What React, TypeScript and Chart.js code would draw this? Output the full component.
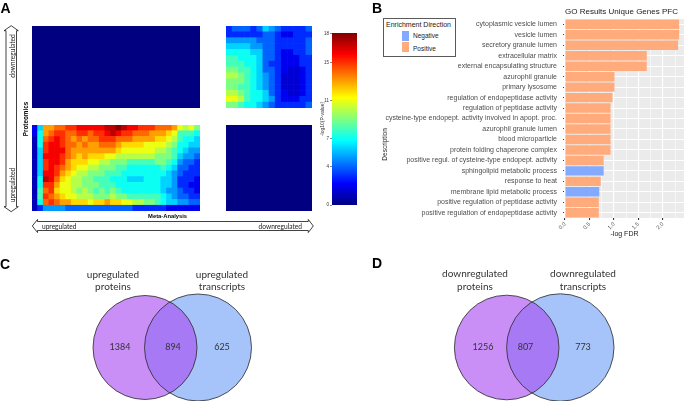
import React, { useEffect, useRef } from 'react';
import { Chart, registerables } from 'chart.js';

Chart.register(...registerables);

// ================= Panel A : heatmap data (-log10 P), rows listed top → bottom =================
const COLORBAR_MAX = 18.1;
const colorbarTicks = [0, 4, 7, 11, 15, 18];

// Proteomics downregulated × Meta-analysis upregulated (top-left)
const heatProtDownMetaUp = [
  [0, 0, 0, 0, 0, 0, 0, 0, 0, 0, 0, 0],
  [0, 0, 0, 0, 0, 0, 0, 0, 0, 0, 0, 0],
  [0, 0, 0, 0, 0, 0, 0, 0, 0, 0, 0, 0],
  [0, 0, 0, 0, 0, 0, 0, 0, 0, 0, 0, 0],
  [0, 0, 0, 0, 0, 0, 0, 0, 0, 0, 0, 0],
  [0, 0, 0, 0, 0, 0, 0, 0, 0, 0, 0, 0],
];

// Proteomics downregulated × Meta-analysis downregulated (top-right)
const heatProtDownMetaDown = [
  [3, 4, 4, 4, 3, 4, 6, 5, 4, 3, 3, 3, 3, 4],
  [3, 3, 3, 3, 3, 3, 4, 4, 3, 2, 2, 3, 3, 3],
  [5, 5, 5, 5, 5, 4, 4, 4, 3, 3, 3, 3, 3, 4],
  [6, 6, 6, 6, 5, 5, 4, 4, 3, 3, 3, 3, 3, 4],
  [7, 7, 7, 7, 6, 6, 4, 4, 3, 2, 2, 3, 3, 4],
  [8, 8, 7, 7, 7, 6, 4, 4, 3, 2, 2, 2, 3, 3],
  [8, 8, 8, 7, 7, 6, 4, 3, 3, 2, 2, 2, 3, 3],
  [9, 9, 8, 8, 7, 6, 4, 4, 3, 2, 1.5, 1.5, 2, 3],
  [10, 10, 9, 8, 7, 6, 5, 4, 3, 1.5, 1.5, 1.5, 2, 3],
  [9, 9, 9, 8, 7, 6, 5, 4, 3, 1.5, 1.5, 1.5, 2, 3],
  [9, 9, 8, 8, 7, 6, 5, 4, 3, 1.5, 1.5, 1.5, 2, 3],
  [10, 10, 9, 8, 7, 7, 6, 4, 3, 2, 1.5, 1.5, 2, 3],
  [11, 11, 10, 8, 7, 7, 6, 5, 3, 2, 2, 2, 3, 3],
  [9, 9, 8, 7, 7, 6, 5, 4, 3, 3, 3, 3, 3, 4],
];

// Proteomics upregulated × Meta-analysis upregulated (bottom-left)
const heatProtUpMetaUp = [
  [2, 6, 13, 13, 14, 14, 15, 15, 16, 16, 16, 16, 16, 17, 17, 18, 17, 16, 16, 15, 15, 15, 14, 14, 14, 13, 11, 10, 11, 9],
  [2, 7, 13, 14, 15, 15, 14, 14, 15, 15, 14, 15, 15, 16, 17, 16, 15, 15, 14, 14, 14, 13, 13, 13, 12, 11, 8, 8, 8, 7],
  [1, 7, 14, 15, 16, 15, 14, 13, 14, 13, 14, 14, 15, 15, 15, 14, 14, 14, 13, 13, 13, 13, 12, 12, 11, 10, 8, 7, 7, 6],
  [1, 7, 15, 16, 16, 15, 14, 14, 13, 14, 13, 13, 14, 14, 14, 13, 12, 12, 12, 12, 11, 11, 11, 11, 10, 9, 7, 7, 6, 6],
  [1, 6, 15, 16, 16, 16, 14, 13, 13, 13, 13, 13, 13, 13, 13, 12, 11, 11, 11, 11, 11, 11, 10, 10, 9, 8, 7, 6, 5, 5],
  [1, 6, 16, 16, 16, 15, 14, 13, 12, 13, 12, 12, 12, 11, 11, 10, 10, 10, 10, 10, 10, 10, 9, 9, 9, 8, 6, 5, 5, 4],
  [1, 6, 15, 16, 16, 15, 13, 12, 12, 12, 11, 11, 10, 10, 9, 9, 9, 8, 8, 8, 8, 8, 9, 9, 8, 7, 5, 4, 4, 3],
  [1, 6, 15, 16, 15, 14, 13, 12, 11, 11, 10, 10, 9, 9, 9, 8, 8, 7, 7, 7, 7, 7, 7, 8, 7, 6, 4, 4, 3, 3],
  [1, 6, 16, 16, 15, 13, 12, 11, 10, 10, 9, 9, 9, 8, 8, 8, 7, 7, 7, 7, 7, 7, 7, 7, 6, 5, 4, 3, 3, 3],
  [1, 7, 17, 16, 14, 12, 11, 10, 10, 9, 9, 8, 8, 8, 7, 7, 7, 6, 6, 6, 7, 7, 7, 6, 6, 5, 3, 3, 3, 2],
  [1, 7, 15, 15, 13, 11, 11, 10, 10, 9, 9, 9, 8, 8, 8, 7, 7, 7, 7, 7, 7, 7, 7, 6, 6, 5, 3, 3, 2, 2],
  [1, 8, 14, 15, 12, 11, 11, 10, 9, 10, 9, 8, 9, 8, 9, 8, 7, 7, 7, 7, 7, 7, 7, 6, 5, 5, 4, 3, 3, 2],
  [1, 8, 15, 14, 13, 12, 11, 11, 10, 10, 10, 9, 9, 9, 10, 9, 9, 8, 8, 8, 8, 8, 8, 7, 6, 5, 4, 4, 3, 3],
  [1, 7, 14, 15, 14, 13, 13, 12, 12, 12, 11, 12, 12, 13, 12, 12, 11, 11, 10, 10, 9, 9, 8, 7, 6, 6, 5, 5, 4, 4],
  [1, 3, 5, 5, 5, 5, 4, 4, 4, 4, 4, 4, 4, 4, 4, 4, 4, 4, 3, 3, 3, 3, 3, 3, 2, 2, 2, 2, 2, 2],
];

// Proteomics upregulated × Meta-analysis downregulated (bottom-right)
const heatProtUpMetaDown = [
  [0, 0, 0, 0, 0, 0],
  [0, 0, 0, 0, 0, 0],
  [0, 0, 0, 0, 0, 0],
  [0, 0, 0, 0, 0, 0],
  [0, 0, 0, 0, 0, 0],
  [0, 0, 0, 0, 0, 0],
];

// ================= Panel B : GO enrichment =================
const goTerms = [
  'cytoplasmic vesicle lumen',
  'vesicle lumen',
  'secretory granule lumen',
  'extracellular matrix',
  'external encapsulating structure',
  'azurophil granule',
  'primary lysosome',
  'regulation of endopeptidase activity',
  'regulation of peptidase activity',
  'cysteine-type endopept. activity involved in apopt. proc.',
  'azurophil granule lumen',
  'blood microparticle',
  'protein folding chaperone complex',
  'positive regul. of cysteine-type endopept. activity',
  'sphingolipid metabolic process',
  'response to heat',
  'membrane lipid metabolic process',
  'positive regulation of peptidase activity',
  'positive regulation of endopeptidase activity',
];
const goValues = [2.33, 2.33, 2.31, 1.67, 1.67, 1.01, 1.01, 0.97, 0.93, 0.93, 0.93, 0.93, 0.93, 0.79, 0.79, 0.73, 0.7, 0.69, 0.69];
const goDirection = [
  'Positive', 'Positive', 'Positive', 'Positive', 'Positive', 'Positive', 'Positive', 'Positive', 'Positive', 'Positive',
  'Positive', 'Positive', 'Positive', 'Positive', 'Negative', 'Positive', 'Negative', 'Positive', 'Positive',
];
const directionLevels = ['Negative', 'Positive'];
const goXTicks = [0, 0.5, 1, 1.5, 2];

// ================= Panels C / D : Venn =================
const vennUpSets = [['upregulated', 'proteins'], ['upregulated', 'transcripts']];
const vennUpCounts = [1384, 894, 625];
const vennDownSets = [['downregulated', 'proteins'], ['downregulated', 'transcripts']];
const vennDownCounts = [1256, 807, 773];

// ================= styles / layout =================
const SANS = '"Liberation Sans", Arial, Helvetica, sans-serif';
const HUMAN = 'Lato, "Open Sans", sans-serif';
const GO_COLORS: Record<string, string> = { Negative: '#83AAFF', Positive: '#FFAB7C' };
const VENN_RIGHT = 'rgb(166,196,250)';
const VENN_LEFT = 'rgba(170,74,240,0.62)';

const VENN_W = 340;
const VENN_H = 151;
const vennLayoutC = {
  xMin: -3.43, xMax: 3.37, yMin: -1.07, yMax: 1.95,
  cx: 0.53, r: [1.04, 1.07],
  countX: [-1.03, 0.03, 1.01], nameX: [-1.17, 1.01], nameY: [1.45, 1.21],
};
const vennLayoutD = {
  xMin: -3.77, xMax: 3.03, yMin: -1.07, yMax: 1.95,
  cx: 0.536, r: [1.046, 1.074],
  countX: [-1.01, -0.16, 0.99], nameX: [-1.17, 0.99], nameY: [1.47, 1.22],
};

function jet(v: number) {
  const t = Math.max(0, Math.min(1, v / COLORBAR_MAX));
  const f = (c: number) => Math.round(255 * Math.max(0, Math.min(1, 1.5 - Math.abs(4 * t - c))));
  return `rgb(${f(3)},${f(2)},${f(1)})`;
}

function jetGradient(chart: any) {
  const a = chart.chartArea;
  if (!a) return jet(0);
  const g = chart.ctx.createLinearGradient(0, a.bottom, 0, a.top);
  for (let k = 0; k <= 16; k++) {
    const t = k / 16;
    g.addColorStop(t, jet(t * COLORBAR_MAX));
  }
  return g;
}

const baseOpts = {
  responsive: true,
  maintainAspectRatio: false,
  animation: false as const,
  events: [] as any[],
};

function heatConfig(values: number[][]): any {
  const nRows = values.length;
  return {
    type: 'bar',
    data: {
      labels: values[0].map((_, i) => String(i + 1)),
      datasets: values
        .slice()
        .reverse()
        .map((row) => ({
          data: row.map(() => 1),
          backgroundColor: row.map((v) => jet(v)),
          borderWidth: 0,
          barPercentage: 1,
          categoryPercentage: 1,
        })),
    },
    options: {
      ...baseOpts,
      layout: { padding: 0 },
      plugins: { legend: { display: false }, tooltip: { enabled: false } },
      scales: {
        x: { display: false, stacked: true },
        y: { display: false, stacked: true, min: 0, max: nRows },
      },
    },
  };
}

function colorbarConfig(): any {
  return {
    type: 'bar',
    data: {
      labels: ['-log10(P-value)'],
      datasets: [
        {
          data: [[0, COLORBAR_MAX]],
          backgroundColor: (c: any) => jetGradient(c.chart),
          borderWidth: 0,
          barPercentage: 1,
          categoryPercentage: 1,
        },
      ],
    },
    options: {
      ...baseOpts,
      layout: { padding: { top: 7, bottom: 7, left: 0, right: 1 } },
      plugins: { legend: { display: false }, tooltip: { enabled: false } },
      scales: {
        x: { display: false },
        y: {
          min: 0,
          max: COLORBAR_MAX,
          afterFit: (s: any) => { s.width = 16; },
          afterBuildTicks: (s: any) => { s.ticks = colorbarTicks.map((v) => ({ value: v })); },
          border: { display: false },
          grid: { drawOnChartArea: false, color: '#333', tickLength: 2, lineWidth: 0.6 },
          ticks: { color: '#333', font: { family: SANS, size: 4.5 }, padding: 1 },
          title: {
            display: true,
            text: '-log10(P-value)',
            color: '#333',
            font: { family: SANS, size: 5 },
            padding: { top: 3.7, bottom: 0 },
          },
        },
      },
    },
  };
}

const isMajor = (v: number) => goXTicks.some((t) => Math.abs(t - v) < 1e-6);

const panelBg = {
  id: 'panelBg',
  beforeDraw(chart: any) {
    const { ctx, chartArea: a } = chart;
    ctx.save();
    ctx.fillStyle = '#EBEBEB';
    ctx.fillRect(a.left, a.top, a.right - a.left, a.bottom - a.top);
    ctx.restore();
  },
};

const descriptionLabel = {
  id: 'descriptionLabel',
  afterDraw(chart: any) {
    const { ctx, chartArea: a } = chart;
    ctx.save();
    ctx.translate(45, a.top + (a.bottom - a.top) * 0.63);
    ctx.rotate(-Math.PI / 2);
    ctx.font = `6.5px ${SANS}`;
    ctx.fillStyle = '#1a1a1a';
    ctx.textAlign = 'center';
    ctx.textBaseline = 'middle';
    ctx.fillText('Description', 0, 0);
    ctx.restore();
  },
};

function goConfig(): any {
  return {
    type: 'bar',
    data: {
      labels: goTerms,
      datasets: [
        {
          label: '-log FDR',
          data: goValues,
          backgroundColor: goDirection.map((d) => GO_COLORS[d]),
          borderWidth: 0,
          barPercentage: 0.9,
          categoryPercentage: 1,
        },
      ],
    },
    options: {
      ...baseOpts,
      indexAxis: 'y',
      layout: { padding: { left: 0, right: 1, top: 0, bottom: 0 } },
      plugins: {
        legend: { display: false },
        tooltip: { enabled: false },
        title: {
          display: true,
          text: 'GO Results Unique Genes PFC',
          align: 'start',
          fullSize: false,
          color: '#1a1a1a',
          font: { family: SANS, size: 8, weight: 'normal' },
          padding: { top: 6.5, bottom: 3 },
        },
      },
      scales: {
        y: {
          afterFit: (s: any) => { s.width = 225; },
          border: { display: false },
          grid: { color: '#ffffff', lineWidth: 1.1, offset: false, tickColor: '#333', tickLength: 2 },
          ticks: { color: '#4d4d4d', font: { family: SANS, size: 7 }, padding: 6, autoSkip: false },
        },
        x: {
          type: 'linear',
          min: 0,
          max: 2.43,
          afterFit: (s: any) => { s.height = 32; },
          border: { display: false },
          grid: {
            color: '#ffffff',
            lineWidth: (c: any) => (c.tick && isMajor(c.tick.value) ? 1.1 : 0.55),
            tickColor: (c: any) => (c.tick && isMajor(c.tick.value) ? '#333' : 'rgba(0,0,0,0)'),
            tickLength: 2,
          },
          ticks: {
            stepSize: 0.25,
            includeBounds: false,
            autoSkip: false,
            minRotation: 45,
            maxRotation: 45,
            padding: 1,
            color: '#4d4d4d',
            font: { family: SANS, size: 5.5 },
            callback: (v: any) => (isMajor(Number(v)) ? Number(v).toFixed(1) : ''),
          },
          title: {
            display: true,
            text: '-log FDR',
            color: '#1a1a1a',
            font: { family: SANS, size: 7 },
            padding: { top: 0, bottom: 11.8 },
          },
        },
      },
    },
    plugins: [panelBg, descriptionLabel],
  };
}

function vennConfig(sets: string[][], counts: number[], geo: typeof vennLayoutC): any {
  // bubble radius is given in pixels: convert the circle radius (x-axis units) with the axis' px/unit
  const pxPerUnit = VENN_W / (geo.xMax - geo.xMin);
  const circles = [
    { x: -geo.cx, y: 0, r: geo.r[0] * pxPerUnit },
    { x: geo.cx, y: 0, r: geo.r[1] * pxPerUnit },
  ];
  const labels = {
    id: 'vennLabels',
    afterDatasetsDraw(chart: any) {
      const { ctx } = chart;
      const { x, y } = chart.scales;
      ctx.save();
      ctx.fillStyle = '#333';
      ctx.textAlign = 'center';
      ctx.textBaseline = 'middle';
      ctx.font = `9px ${HUMAN}`;
      counts.forEach((n, i) => ctx.fillText(String(n), x.getPixelForValue(geo.countX[i]), y.getPixelForValue(0)));
      ctx.font = `10px ${HUMAN}`;
      sets.forEach((lines, i) =>
        lines.forEach((ln, j) => ctx.fillText(ln, x.getPixelForValue(geo.nameX[i]), y.getPixelForValue(geo.nameY[j])))
      );
      ctx.restore();
    },
  };
  // Chart.js paints higher "order" first: blue circle (3) → purple translucent circle (2) → outlines (1)
  return {
    type: 'bubble',
    data: {
      datasets: [
        { label: 'outline', order: 1, data: circles, backgroundColor: 'rgba(0,0,0,0)', borderColor: '#2a2a2a', borderWidth: 0.8, clip: false },
        { label: sets[0].join(' '), order: 2, data: [circles[0]], backgroundColor: VENN_LEFT, borderWidth: 0, clip: false },
        { label: sets[1].join(' '), order: 3, data: [circles[1]], backgroundColor: VENN_RIGHT, borderWidth: 0, clip: false },
      ],
    },
    options: {
      ...baseOpts,
      layout: { padding: 0, autoPadding: false },
      plugins: { legend: { display: false }, tooltip: { enabled: false } },
      scales: {
        x: { type: 'linear', display: false, min: geo.xMin, max: geo.xMax },
        y: { type: 'linear', display: false, min: geo.yMin, max: geo.yMax },
      },
    },
    plugins: [labels],
  };
}

function ChartBox({ left, top, width, height, make }: { left: number; top: number; width: number; height: number; make: () => any }) {
  const ref = useRef<HTMLCanvasElement | null>(null);
  useEffect(() => {
    if (!ref.current) return;
    const chart = new Chart(ref.current, make());
    return () => chart.destroy();
  }, []);
  return (
    <div style={{ position: 'absolute', left, top, width, height }}>
      <canvas ref={ref} />
    </div>
  );
}

function GoLegend() {
  return (
    <div
      style={{
        position: 'absolute', left: 383, top: 18, width: 73, height: 39,
        border: '1px solid #5a5a5a', background: '#fff', boxSizing: 'border-box',
        fontFamily: SANS, color: '#1a1a1a',
      }}
    >
      <div style={{ position: 'absolute', left: 2, top: 1, fontSize: 7, lineHeight: '9px', whiteSpace: 'nowrap' }}>
        Enrichment Direction
      </div>
      {directionLevels.map((d, i) => (
        <React.Fragment key={d}>
          <div style={{ position: 'absolute', left: 18, top: 11.7 + i * 11, width: 7, height: 10, background: GO_COLORS[d] }} />
          <div style={{ position: 'absolute', left: 29, top: 12.5 + i * 13.4, fontSize: 6.5, lineHeight: '8px', whiteSpace: 'nowrap' }}>
            {d}
          </div>
        </React.Fragment>
      ))}
    </div>
  );
}

function Overlay() {
  const hArrow =
    'M32.3,226 L37.5,219.5 L37.5,221.5 L308.3,221.5 L308.3,219.5 L313.3,226 L308.3,232.5 L308.3,230.5 L37.5,230.5 L37.5,232.5 Z';
  const vArrow =
    'M11.2,25.7 L18.3,30.7 L16.5,30.7 L16.5,206.7 L18.3,206.7 L11.2,211.7 L4,206.7 L6,206.7 L6,30.7 L4,30.7 Z';
  const letter = { fontFamily: SANS, fontWeight: 700 as const, fontSize: 14, fill: '#000' };
  const small = { fontFamily: HUMAN, fontSize: 6.6, fill: '#222' };
  return (
    <svg
      width={685}
      height={401}
      style={{ position: 'absolute', left: 0, top: 0, pointerEvents: 'none' }}
    >
      <text x={0.5} y={13} {...letter}>A</text>
      <text x={372} y={13} {...letter}>B</text>
      <text x={0} y={269} {...letter}>C</text>
      <text x={372} y={268} {...letter}>D</text>

      <path d={hArrow} fill="#fff" stroke="#111" strokeWidth={0.8} />
      <path d={vArrow} fill="#fff" stroke="#111" strokeWidth={0.8} />

      <text x={42} y={226.3} dominantBaseline="central" {...small}>upregulated</text>
      <text x={302} y={226.3} dominantBaseline="central" textAnchor="end" {...small}>downregulated</text>
      <text transform="translate(11.5,56) rotate(-90)" textAnchor="middle" dominantBaseline="central" {...small}>downregulated</text>
      <text transform="translate(11.5,185) rotate(-90)" textAnchor="middle" dominantBaseline="central" {...small}>upregulated</text>

      <text transform="translate(25.5,119) rotate(-90)" textAnchor="middle" dominantBaseline="central"
        fontFamily={SANS} fontWeight={700} fontSize={6.3} fill="#000">Proteomics</text>
      <text x={167.6} y={216.3} textAnchor="middle" dominantBaseline="central"
        fontFamily={SANS} fontWeight={700} fontSize={5.8} fill="#000">Meta-Analysis</text>
    </svg>
  );
}

export default function App() {
  return (
    <div style={{ position: 'relative', width: 685, height: 401, overflow: 'hidden', background: '#fff' }}>
      <style>{'html,body{margin:0;padding:0;background:#fff;overflow:hidden}'}</style>
      <ChartBox left={32} top={26} width={168} height={82} make={() => heatConfig(heatProtDownMetaUp)} />
      <ChartBox left={226} top={26} width={86} height={82} make={() => heatConfig(heatProtDownMetaDown)} />
      <ChartBox left={32} top={125} width={168} height={86} make={() => heatConfig(heatProtUpMetaUp)} />
      <ChartBox left={226} top={125} width={86} height={86} make={() => heatConfig(heatProtUpMetaDown)} />
      <ChartBox left={316} top={26} width={42} height={186} make={colorbarConfig} />
      <ChartBox left={340} top={0} width={345} height={250} make={goConfig} />
      <GoLegend />
      <ChartBox left={0} top={250} width={VENN_W} height={VENN_H} make={() => vennConfig(vennUpSets, vennUpCounts, vennLayoutC)} />
      <ChartBox left={345} top={250} width={VENN_W} height={VENN_H} make={() => vennConfig(vennDownSets, vennDownCounts, vennLayoutD)} />
      <Overlay />
    </div>
  );
}
